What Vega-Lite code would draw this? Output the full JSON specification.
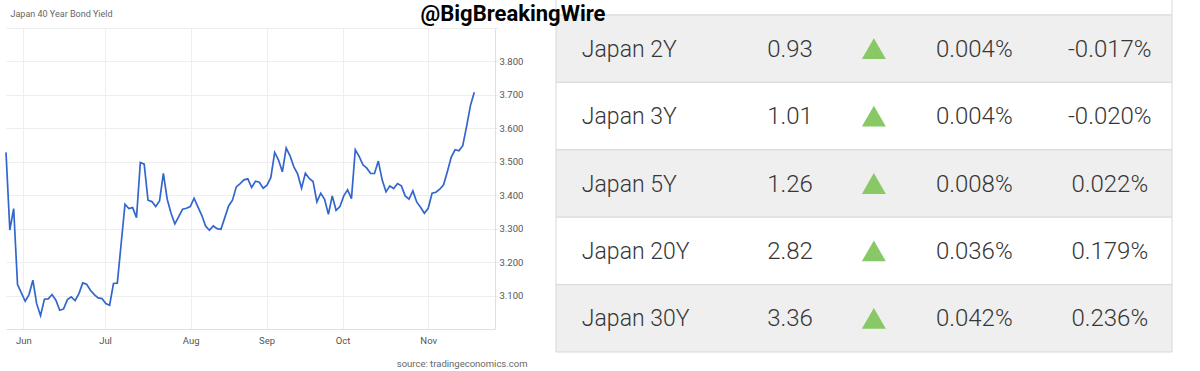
{
  "$schema": "https://vega.github.io/schema/vega-lite/v6.json",
  "width": 489,
  "height": 301,
  "padding": {"left": 6, "top": 28, "right": 705, "bottom": 42},
  "autosize": {"type": "none"},
  "background": "white",
  "config": {"view": {"stroke": null}, "font": "Roboto"},
  "datasets": {
    "yield40": [
      {"t":0,"v":3.528},{"t":1,"v":3.296},{"t":2,"v":3.36},{"t":3,"v":3.133},{"t":4,"v":3.108},{"t":5,"v":3.083},{"t":6,"v":3.103},{"t":7,"v":3.146},{"t":8,"v":3.075},{"t":9,"v":3.04},
      {"t":10,"v":3.089},{"t":11,"v":3.09},{"t":12,"v":3.103},{"t":13,"v":3.086},{"t":14,"v":3.056},{"t":15,"v":3.06},{"t":16,"v":3.088},{"t":17,"v":3.096},{"t":18,"v":3.085},{"t":19,"v":3.106},
      {"t":20,"v":3.138},{"t":21,"v":3.134},{"t":22,"v":3.116},{"t":23,"v":3.103},{"t":24,"v":3.093},{"t":25,"v":3.091},{"t":26,"v":3.076},{"t":27,"v":3.071},{"t":28,"v":3.136},{"t":29,"v":3.137},
      {"t":30,"v":3.255},{"t":31,"v":3.373},{"t":32,"v":3.36},{"t":33,"v":3.363},{"t":34,"v":3.333},{"t":35,"v":3.498},{"t":36,"v":3.493},{"t":37,"v":3.385},{"t":38,"v":3.381},{"t":39,"v":3.366},
      {"t":40,"v":3.383},{"t":41,"v":3.465},{"t":42,"v":3.388},{"t":43,"v":3.346},{"t":44,"v":3.314},{"t":45,"v":3.336},{"t":46,"v":3.358},{"t":47,"v":3.361},{"t":48,"v":3.366},{"t":49,"v":3.391},
      {"t":50,"v":3.365},{"t":51,"v":3.34},{"t":52,"v":3.308},{"t":53,"v":3.295},{"t":54,"v":3.308},{"t":55,"v":3.3},{"t":56,"v":3.298},{"t":57,"v":3.333},{"t":58,"v":3.368},{"t":59,"v":3.385},
      {"t":60,"v":3.425},{"t":61,"v":3.435},{"t":62,"v":3.446},{"t":63,"v":3.449},{"t":64,"v":3.423},{"t":65,"v":3.442},{"t":66,"v":3.439},{"t":67,"v":3.421},{"t":68,"v":3.43},{"t":69,"v":3.453},
      {"t":70,"v":3.528},{"t":71,"v":3.505},{"t":72,"v":3.47},{"t":73,"v":3.541},{"t":74,"v":3.518},{"t":75,"v":3.485},{"t":76,"v":3.463},{"t":77,"v":3.421},{"t":78,"v":3.466},{"t":79,"v":3.45},
      {"t":80,"v":3.441},{"t":81,"v":3.38},{"t":82,"v":3.406},{"t":83,"v":3.388},{"t":84,"v":3.343},{"t":85,"v":3.398},{"t":86,"v":3.355},{"t":87,"v":3.366},{"t":88,"v":3.398},{"t":89,"v":3.416},
      {"t":90,"v":3.39},{"t":91,"v":3.536},{"t":92,"v":3.516},{"t":93,"v":3.491},{"t":94,"v":3.481},{"t":95,"v":3.465},{"t":96,"v":3.465},{"t":97,"v":3.502},{"t":98,"v":3.446},{"t":99,"v":3.41},
      {"t":100,"v":3.428},{"t":101,"v":3.42},{"t":102,"v":3.435},{"t":103,"v":3.428},{"t":104,"v":3.398},{"t":105,"v":3.388},{"t":106,"v":3.413},{"t":107,"v":3.38},{"t":108,"v":3.364},{"t":109,"v":3.346},
      {"t":110,"v":3.361},{"t":111,"v":3.406},{"t":112,"v":3.409},{"t":113,"v":3.418},{"t":114,"v":3.431},{"t":115,"v":3.471},{"t":116,"v":3.514},{"t":117,"v":3.536},{"t":118,"v":3.533},{"t":119,"v":3.548},
      {"t":120,"v":3.606},{"t":121,"v":3.668},{"t":122,"v":3.708}
    ],
    "table": [
      {"Bond": "Japan 2Y", "Yield": 0.93, "Day": "0.004%", "Chg": "-0.017%"},
      {"Bond": "Japan 3Y", "Yield": 1.01, "Day": "0.004%", "Chg": "-0.020%"},
      {"Bond": "Japan 5Y", "Yield": 1.26, "Day": "0.008%", "Chg": "0.022%"},
      {"Bond": "Japan 20Y", "Yield": 2.82, "Day": "0.036%", "Chg": "0.179%"},
      {"Bond": "Japan 30Y", "Yield": 3.36, "Day": "0.042%", "Chg": "0.236%"}
    ]
  },
  "layer": [
    {
      "data": {"name": "yield40"},
      "mark": {"type": "line", "color": "#3366cc", "strokeWidth": 1.7},
      "encoding": {
        "x": {
          "field": "t", "type": "quantitative",
          "scale": {"domain": [0, 127.4], "nice": false, "zero": false},
          "axis": {
            "values": [4.5, 25.8, 48.1, 67.9, 87.7, 110],
            "labelExpr": "datum.value < 15 ? 'Jun' : datum.value < 35 ? 'Jul' : datum.value < 58 ? 'Aug' : datum.value < 78 ? 'Sep' : datum.value < 100 ? 'Oct' : 'Nov'",
            "grid": true, "gridColor": "#eeeeee", "ticks": false,
            "domainColor": "#e0e0e0", "labelFlush": false,
            "labelFontSize": 9.5, "labelColor": "#555555", "labelPadding": 6, "labelFont": "Roboto",
            "title": "source: tradingeconomics.com", "titleX": 521, "titleY": 34,
            "titleAlign": "right", "titleBaseline": "middle", "titleFontSize": 9.5,
            "titleFontWeight": "normal", "titleColor": "#666666", "titleFont": "Roboto"
          }
        },
        "y": {
          "field": "v", "type": "quantitative",
          "scale": {"domain": [3.0, 3.9], "nice": false, "zero": false},
          "axis": {
            "orient": "right",
            "values": [3.1, 3.2, 3.3, 3.4, 3.5, 3.6, 3.7, 3.8, 3.9],
            "labelExpr": "datum.value > 3.85 ? '' : format(datum.value, '.3f')",
            "grid": true, "gridColor": "#eeeeee", "tickColor": "#eeeeee", "tickSize": 3,
            "domainColor": "#e0e0e0", "labelPadding": 1,
            "labelFontSize": 9.5, "labelColor": "#555555", "labelFont": "Roboto",
            "title": "Japan 40 Year Bond Yield", "titleAngle": 0, "titleX": -485, "titleY": -11.3,
            "titleAlign": "left", "titleBaseline": "alphabetic", "titleFontSize": 9,
            "titleFontWeight": "normal", "titleColor": "#666666", "titleFont": "Roboto"
          }
        }
      }
    },
    {
      "data": {"name": "table"},
      "encoding": {
        "y": {
          "field": "Bond", "type": "nominal", "sort": null,
          "scale": {"type": "band", "domain": ["header", "Japan 2Y", "Japan 3Y", "Japan 5Y", "Japan 20Y", "Japan 30Y"], "range": [-80.4, 324], "paddingInner": 0, "paddingOuter": 0},
          "axis": null
        }
      },
      "layer": [
        {
          "data": {"values": [{}]},
          "mark": {"type": "rect", "fill": "#ffffff", "stroke": "#d8d8d8", "strokeWidth": 1},
          "encoding": {
            "y": {"datum": "header", "type": "nominal"},
            "x": {"datum": 0, "type": "quantitative", "scale": {"domain": [0, 100], "range": [550, 1166], "nice": false, "zero": false},
                  "axis": {"orient": "top", "labels": false, "ticks": false, "domain": false, "grid": false, "zindex": 2, "title": "@BigBreakingWire", "titleX": 414, "titleY": -8, "titleAlign": "left", "titleBaseline": "alphabetic", "titleFontSize": 22, "titleFontWeight": "bold", "titleColor": "#000000", "titleFont": "Roboto"}},
            "x2": {"datum": 100}
          }
        },
        {
          "mark": {"type": "rect", "stroke": "#d8d8d8", "strokeWidth": 1},
          "encoding": {
            "x": {"datum": 0, "type": "quantitative", "scale": {"domain": [0, 100], "range": [550, 1166], "nice": false, "zero": false},
                  "axis": {"orient": "top", "labels": false, "ticks": false, "domain": false, "grid": false, "zindex": 2, "title": "@BigBreakingWire", "titleX": 414, "titleY": -8, "titleAlign": "left", "titleBaseline": "alphabetic", "titleFontSize": 22, "titleFontWeight": "bold", "titleColor": "#000000", "titleFont": "Roboto"}},
            "x2": {"datum": 100},
            "fill": {"condition": {"test": "indexof(['Japan 2Y','Japan 5Y','Japan 30Y'], datum.Bond) >= 0", "value": "#efefef"}, "value": "#ffffff"}
          }
        },
        {
          "mark": {"type": "text", "align": "left", "baseline": "alphabetic", "dy": 8, "fontSize": 23, "fontWeight": 300, "color": "#363636", "font": "Roboto"},
          "encoding": {
            "x": {"datum": 4.2, "type": "quantitative", "scale": {"domain": [0, 100], "range": [550, 1166], "nice": false, "zero": false},
                  "axis": {"orient": "top", "labels": false, "ticks": false, "domain": false, "grid": false, "zindex": 2, "title": "@BigBreakingWire", "titleX": 414, "titleY": -8, "titleAlign": "left", "titleBaseline": "alphabetic", "titleFontSize": 22, "titleFontWeight": "bold", "titleColor": "#000000", "titleFont": "Roboto"}},
            "text": {"field": "Bond"}
          }
        },
        {
          "mark": {"type": "text", "align": "center", "baseline": "alphabetic", "dy": 8, "fontSize": 24, "fontWeight": 300, "color": "#363636", "font": "Roboto"},
          "encoding": {
            "x": {"datum": 38.0, "type": "quantitative", "scale": {"domain": [0, 100], "range": [550, 1166], "nice": false, "zero": false},
                  "axis": {"orient": "top", "labels": false, "ticks": false, "domain": false, "grid": false, "zindex": 2, "title": "@BigBreakingWire", "titleX": 414, "titleY": -8, "titleAlign": "left", "titleBaseline": "alphabetic", "titleFontSize": 22, "titleFontWeight": "bold", "titleColor": "#000000", "titleFont": "Roboto"}},
            "text": {"field": "Yield", "format": ".2f"}
          }
        },
        {
          "mark": {"type": "point", "shape": "triangle-up", "filled": true, "size": 576, "color": "#88c866", "opacity": 1},
          "encoding": {
            "x": {"datum": 51.6, "type": "quantitative", "scale": {"domain": [0, 100], "range": [550, 1166], "nice": false, "zero": false},
                  "axis": {"orient": "top", "labels": false, "ticks": false, "domain": false, "grid": false, "zindex": 2, "title": "@BigBreakingWire", "titleX": 414, "titleY": -8, "titleAlign": "left", "titleBaseline": "alphabetic", "titleFontSize": 22, "titleFontWeight": "bold", "titleColor": "#000000", "titleFont": "Roboto"}}
          }
        },
        {
          "mark": {"type": "text", "align": "center", "baseline": "alphabetic", "dy": 8, "fontSize": 24, "fontWeight": 300, "color": "#363636", "font": "Roboto"},
          "encoding": {
            "x": {"datum": 67.9, "type": "quantitative", "scale": {"domain": [0, 100], "range": [550, 1166], "nice": false, "zero": false},
                  "axis": {"orient": "top", "labels": false, "ticks": false, "domain": false, "grid": false, "zindex": 2, "title": "@BigBreakingWire", "titleX": 414, "titleY": -8, "titleAlign": "left", "titleBaseline": "alphabetic", "titleFontSize": 22, "titleFontWeight": "bold", "titleColor": "#000000", "titleFont": "Roboto"}},
            "text": {"field": "Day"}
          }
        },
        {
          "mark": {"type": "text", "align": "center", "baseline": "alphabetic", "dy": 8, "fontSize": 24, "fontWeight": 300, "color": "#363636", "font": "Roboto"},
          "encoding": {
            "x": {"datum": 89.9, "type": "quantitative", "scale": {"domain": [0, 100], "range": [550, 1166], "nice": false, "zero": false},
                  "axis": {"orient": "top", "labels": false, "ticks": false, "domain": false, "grid": false, "zindex": 2, "title": "@BigBreakingWire", "titleX": 414, "titleY": -8, "titleAlign": "left", "titleBaseline": "alphabetic", "titleFontSize": 22, "titleFontWeight": "bold", "titleColor": "#000000", "titleFont": "Roboto"}},
            "text": {"field": "Chg"}
          }
        }
      ]
    }
  ],
  "resolve": {"scale": {"x": "independent", "y": "independent"}}
}
